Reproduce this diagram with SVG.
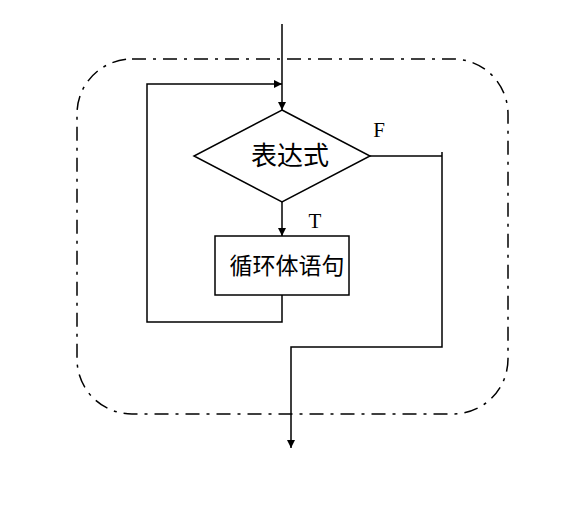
<svg xmlns="http://www.w3.org/2000/svg" width="587" height="505" viewBox="0 0 587 505">
<style>
.ln{fill:none;stroke:#000;stroke-width:1.5}
.cjk{font-family:"Noto Sans CJK SC","Noto Sans CJK JP",serif;fill:#000}
.lat{font-family:"Liberation Serif",serif;fill:#000}
</style>
<defs>
<marker id="ah" viewBox="0 0 10 10" refX="10" refY="5" markerWidth="8" markerHeight="8" markerUnits="userSpaceOnUse" orient="auto"><path d="M0,0 L10,5 L0,10 z" fill="#000"/></marker>
</defs>
<rect width="587" height="505" fill="#fff"/>
<g id="boundary"><rect x="77" y="59" width="431" height="355" rx="55" ry="55" fill="none" stroke="#000" stroke-width="1.5" stroke-dasharray="14 7 3 7"/></g>
<g id="cond"><polygon class="ln" points="282,110 370,156 282,202 194,156"/><text class="cjk" x="290" y="165" font-size="26" text-anchor="middle">表达式</text></g>
<g id="body"><rect class="ln" x="215" y="236" width="134" height="59"/><text class="cjk" x="287" y="274" font-size="23" text-anchor="middle">循环体语句</text></g>
<g id="connectors">
<line class="ln" x1="282" y1="24" x2="282" y2="110" marker-end="url(#ah)"/>
<line class="ln" x1="282" y1="202" x2="282" y2="236" marker-end="url(#ah)"/>
<polyline class="ln" points="282,295 282,322 147,322 147,84 282,84" marker-end="url(#ah)"/>
<polyline class="ln" points="370,156 442,156"/>
<polyline class="ln" points="442,152 442,347 291,347 291,448" marker-end="url(#ah)"/>
</g>
<text class="lat" x="379" y="137" font-size="21" text-anchor="middle">F</text>
<text class="lat" x="315" y="228" font-size="21" text-anchor="middle">T</text>
</svg>
